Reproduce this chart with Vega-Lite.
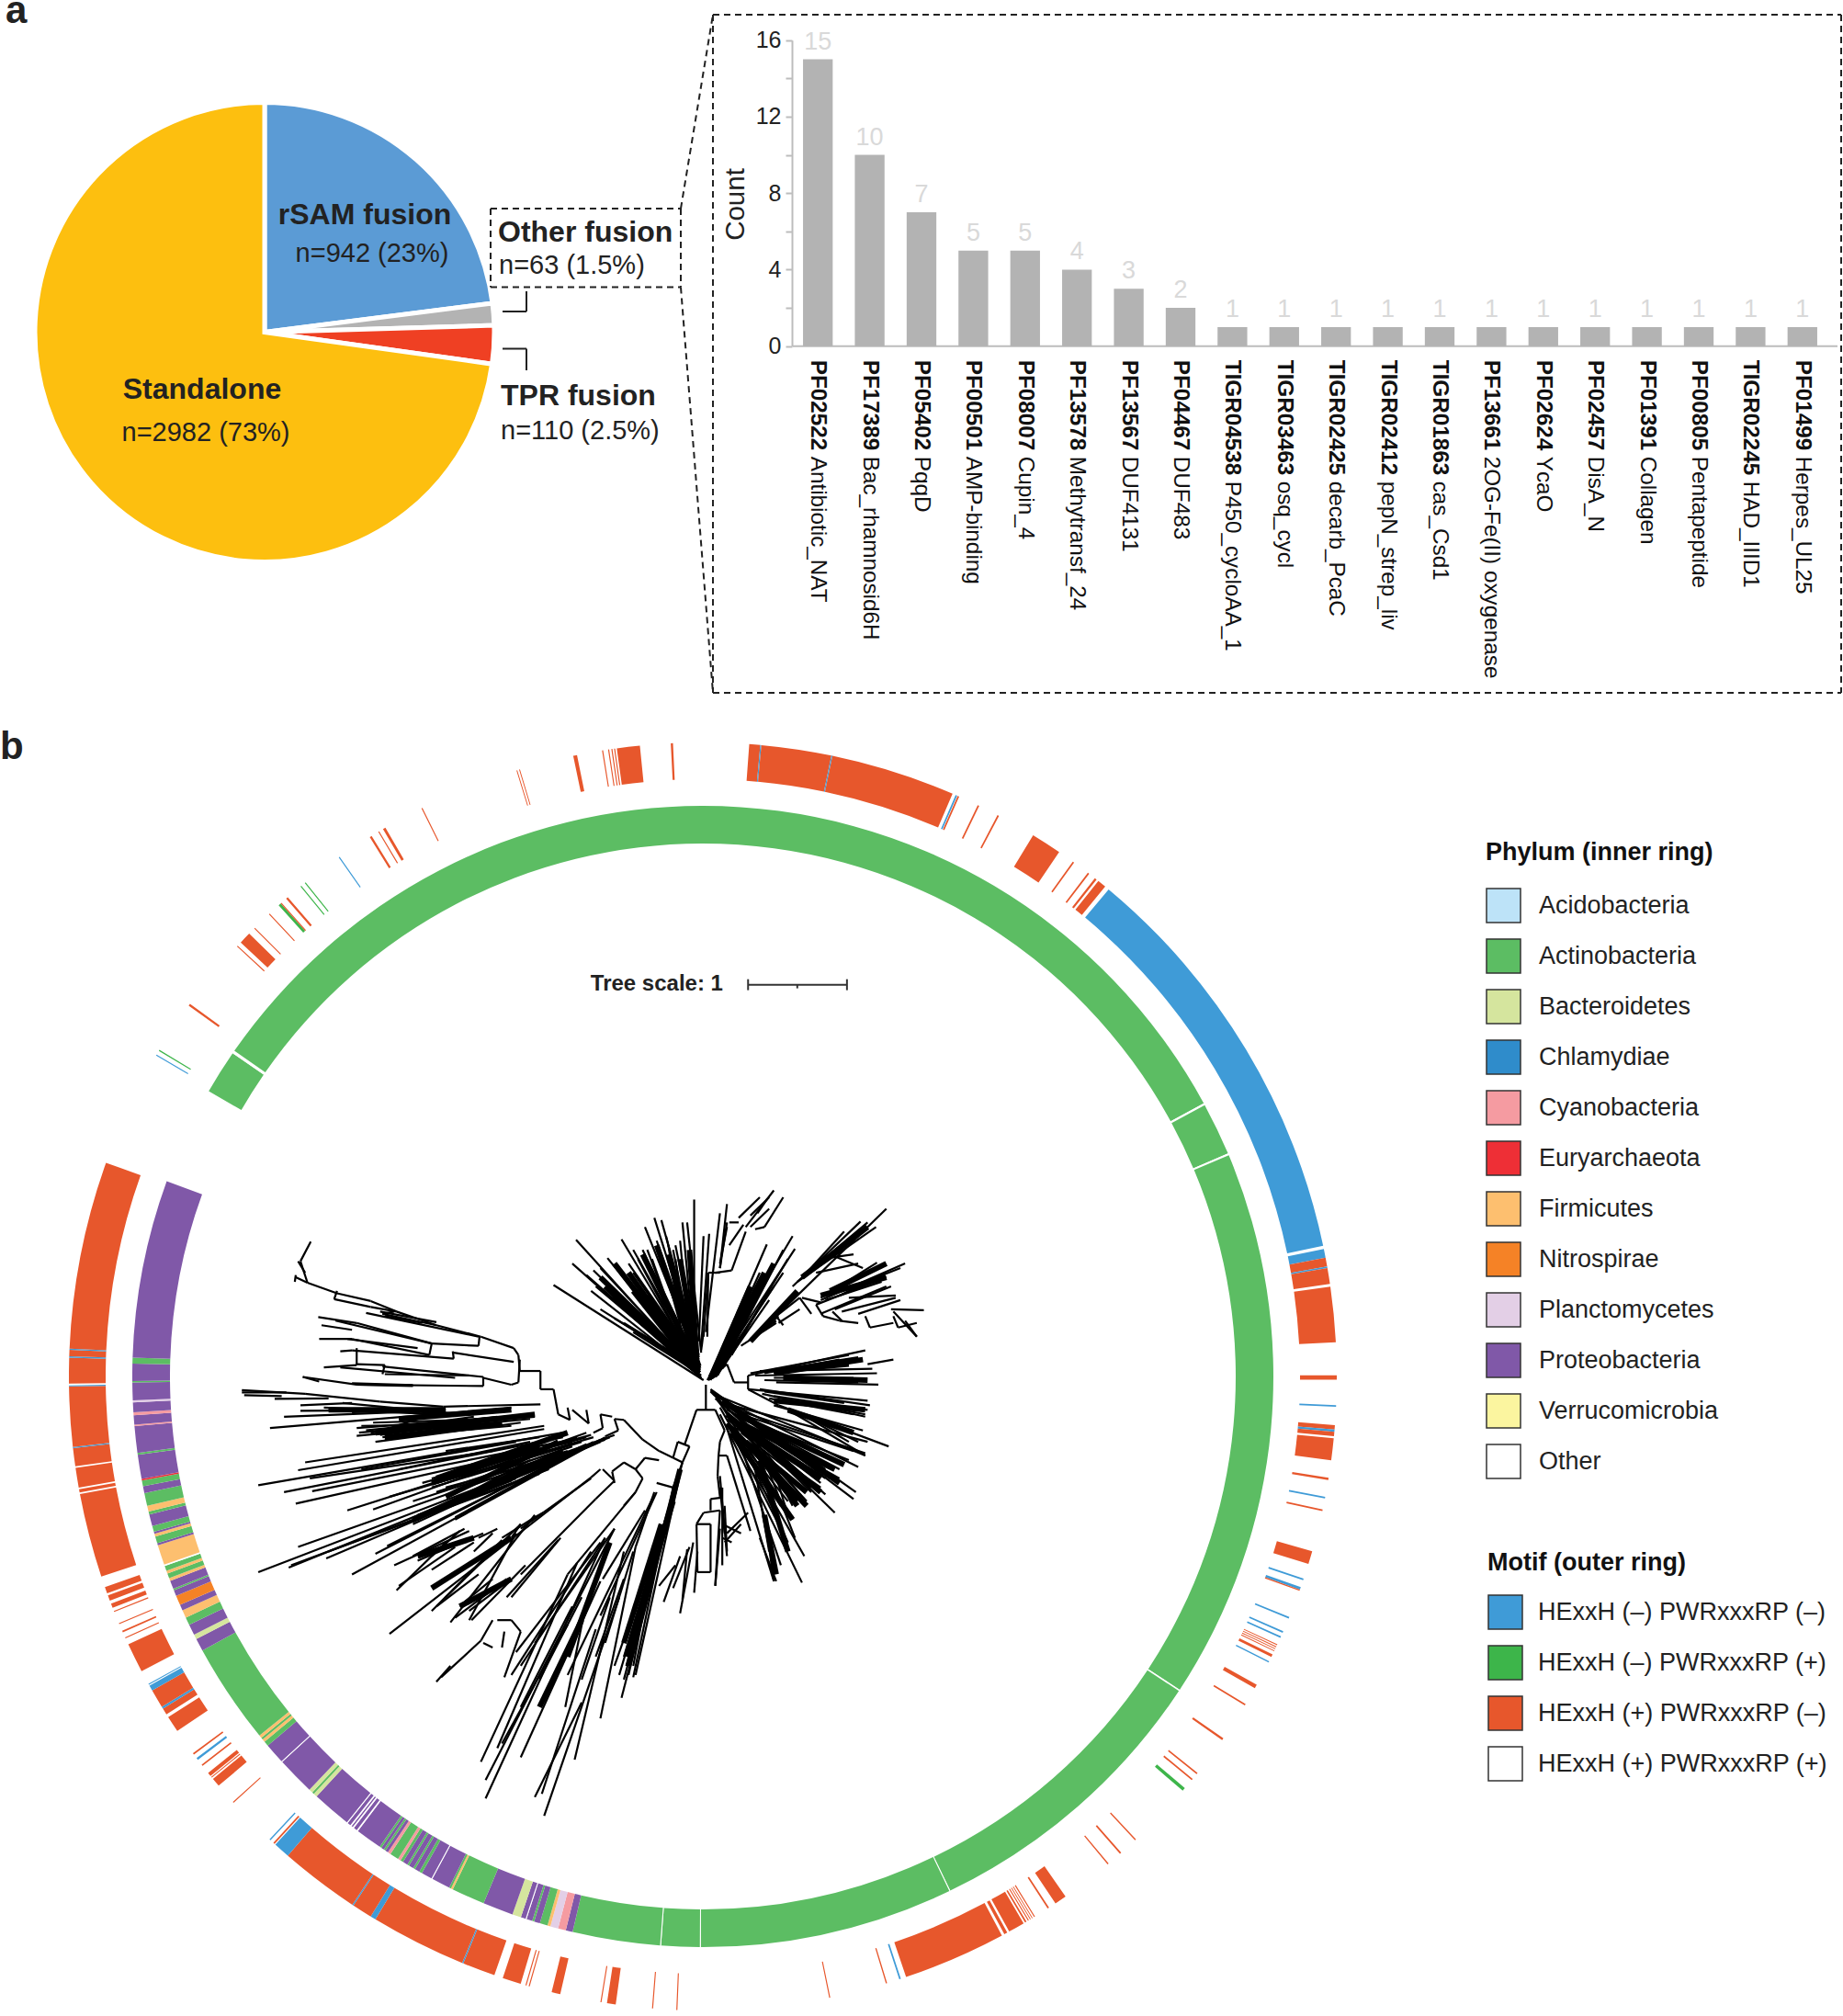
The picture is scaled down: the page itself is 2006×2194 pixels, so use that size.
{"$schema":"https://vega.github.io/schema/vega-lite/v6.json","padding":{"top":-9,"left":0,"right":0,"bottom":0},"background":"white","config":{"view":{"stroke":null},"font":"Liberation Sans","text":{"font":"Liberation Sans"},"concat":{"spacing":0}},
"datasets":{
"inner":[{"s":300,"e":304.5,"p":"Actinobacteria"},{"s":304.5,"e":304.8,"p":"Other"},{"s":304.8,"e":360,"p":"Actinobacteria"},{"s":0,"e":61.4,"p":"Actinobacteria"},{"s":61.4,"e":61.6,"p":"Other"},{"s":61.6,"e":67,"p":"Actinobacteria"},{"s":67,"e":67.2,"p":"Other"},{"s":67.2,"e":123.3,"p":"Actinobacteria"},{"s":123.3,"e":123.45,"p":"Other"},{"s":123.45,"e":154.3,"p":"Actinobacteria"},{"s":154.3,"e":154.4,"p":"Other"},{"s":154.4,"e":180.2,"p":"Actinobacteria"},{"s":180.2,"e":180.3,"p":"Other"},{"s":180.3,"e":184.2,"p":"Actinobacteria"},{"s":184.2,"e":184.3,"p":"Other"},{"s":184.3,"e":193.2,"p":"Actinobacteria"},
{"s":193.2,"e":193.9,"p":"Proteobacteria"},{"s":193.9,"e":194.7,"p":"Cyanobacteria"},{"s":194.7,"e":195.5,"p":"Planctomycetes"},{"s":195.5,"e":195.8,"p":"Firmicutes"},{"s":195.8,"e":196.6,"p":"Actinobacteria"},{"s":196.6,"e":197.2,"p":"Proteobacteria"},{"s":197.2,"e":197.4,"p":"Actinobacteria"},{"s":197.4,"e":198,"p":"Proteobacteria"},{"s":198,"e":198.1,"p":"Other"},{"s":198.1,"e":198.6,"p":"Proteobacteria"},{"s":198.6,"e":199.5,"p":"Bacteroidetes"},{"s":199.5,"e":202.6,"p":"Proteobacteria"},{"s":202.6,"e":206,"p":"Actinobacteria"},{"s":206,"e":206.2,"p":"Firmicutes"},{"s":206.2,"e":206.4,"p":"Actinobacteria"},{"s":206.4,"e":208.3,"p":"Proteobacteria"},{"s":208.3,"e":208.4,"p":"Other"},{"s":208.4,"e":209.5,"p":"Proteobacteria"},{"s":209.5,"e":209.8,"p":"Actinobacteria"},{"s":209.8,"e":210.3,"p":"Proteobacteria"},{"s":210.3,"e":210.5,"p":"Actinobacteria"},{"s":210.5,"e":211,"p":"Proteobacteria"},{"s":211,"e":211.2,"p":"Actinobacteria"},{"s":211.2,"e":211.7,"p":"Proteobacteria"},{"s":211.7,"e":212,"p":"Actinobacteria"},{"s":212,"e":212.3,"p":"Cyanobacteria"},{"s":212.3,"e":213.2,"p":"Actinobacteria"},{"s":213.2,"e":213.5,"p":"Cyanobacteria"},{"s":213.5,"e":213.8,"p":"Proteobacteria"},{"s":213.8,"e":214,"p":"Actinobacteria"},{"s":214,"e":214.3,"p":"Proteobacteria"},{"s":214.3,"e":214.5,"p":"Actinobacteria"},{"s":214.5,"e":217.2,"p":"Proteobacteria"},{"s":217.2,"e":217.35,"p":"Other"},{"s":217.35,"e":217.7,"p":"Proteobacteria"},{"s":217.7,"e":217.85,"p":"Other"},{"s":217.85,"e":218,"p":"Proteobacteria"},{"s":218,"e":218.15,"p":"Other"},{"s":218.15,"e":218.5,"p":"Proteobacteria"},{"s":218.5,"e":218.6,"p":"Other"},{"s":218.6,"e":222.6,"p":"Proteobacteria"},{"s":222.6,"e":223,"p":"Bacteroidetes"},{"s":223,"e":223.2,"p":"Actinobacteria"},{"s":223.2,"e":223.6,"p":"Bacteroidetes"},{"s":223.6,"e":227.5,"p":"Proteobacteria"},{"s":227.5,"e":227.6,"p":"Other"},{"s":227.6,"e":229.7,"p":"Proteobacteria"},{"s":229.7,"e":230.2,"p":"Actinobacteria"},{"s":230.2,"e":230.5,"p":"Firmicutes"},{"s":230.5,"e":230.7,"p":"Actinobacteria"},{"s":230.7,"e":231,"p":"Firmicutes"},{"s":231,"e":241.3,"p":"Actinobacteria"},{"s":241.3,"e":242.6,"p":"Proteobacteria"},{"s":242.6,"e":243.1,"p":"Bacteroidetes"},{"s":243.1,"e":244.2,"p":"Proteobacteria"},{"s":244.2,"e":245,"p":"Actinobacteria"},{"s":245,"e":245.8,"p":"Firmicutes"},{"s":245.8,"e":246.4,"p":"Proteobacteria"},{"s":246.4,"e":247.4,"p":"Nitrospirae"},{"s":247.4,"e":248,"p":"Proteobacteria"},{"s":248,"e":248.15,"p":"Actinobacteria"},{"s":248.15,"e":249,"p":"Proteobacteria"},{"s":249,"e":249.3,"p":"Firmicutes"},{"s":249.3,"e":249.8,"p":"Actinobacteria"},{"s":249.8,"e":250.1,"p":"Firmicutes"},{"s":250.1,"e":250.6,"p":"Actinobacteria"},{"s":250.6,"e":250.75,"p":"Other"},{"s":250.75,"e":252.8,"p":"Firmicutes"},{"s":252.8,"e":253,"p":"Proteobacteria"},{"s":253,"e":253.7,"p":"Actinobacteria"},{"s":253.7,"e":254,"p":"Firmicutes"},{"s":254,"e":254.2,"p":"Proteobacteria"},{"s":254.2,"e":254.8,"p":"Actinobacteria"},{"s":254.8,"e":256,"p":"Proteobacteria"},{"s":256,"e":256.3,"p":"Actinobacteria"},{"s":256.3,"e":256.9,"p":"Firmicutes"},{"s":256.9,"e":258.2,"p":"Actinobacteria"},{"s":258.2,"e":258.9,"p":"Proteobacteria"},{"s":258.9,"e":259.5,"p":"Actinobacteria"},{"s":259.5,"e":259.65,"p":"Euryarchaeota"},{"s":259.65,"e":262.1,"p":"Proteobacteria"},{"s":262.1,"e":262.3,"p":"Actinobacteria"},{"s":262.3,"e":265,"p":"Proteobacteria"},{"s":265,"e":265.15,"p":"Cyanobacteria"},{"s":265.15,"e":266.1,"p":"Proteobacteria"},{"s":266.1,"e":266.4,"p":"Cyanobacteria"},{"s":266.4,"e":267.4,"p":"Proteobacteria"},{"s":267.4,"e":267.6,"p":"Planctomycetes"},{"s":267.6,"e":269.4,"p":"Proteobacteria"},{"s":269.4,"e":269.55,"p":"Actinobacteria"},{"s":269.55,"e":271.3,"p":"Proteobacteria"},{"s":271.3,"e":271.9,"p":"Actinobacteria"},{"s":271.9,"e":290,"p":"Proteobacteria"}],
"outer":[{"s":4.2,"e":5.2,"m":"c"},{"s":5.2,"e":5.3,"m":"a"},{"s":5.3,"e":11.7,"m":"c"},{"s":11.7,"e":11.8,"m":"a"},{"s":11.8,"e":23.2,"m":"c"},{"s":23.5,"e":23.65,"m":"a"},{"s":23.7,"e":23.85,"m":"c"},{"s":25.7,"e":25.85,"m":"c"},{"s":27.7,"e":27.85,"m":"c"},{"s":31.4,"e":34.2,"m":"c"},{"s":35.7,"e":35.85,"m":"c"},{"s":37.4,"e":37.55,"m":"c"},{"s":38.2,"e":38.4,"m":"c"},{"s":38.6,"e":39.4,"m":"c"},{"s":39.8,"e":78.1,"m":"a"},{"s":78.4,"e":79.2,"m":"a"},{"s":79.2,"e":80,"m":"c"},{"s":80,"e":80.15,"m":"a"},{"s":80.15,"e":81.6,"m":"c"},{"s":81.85,"e":86.9,"m":"c"},{"s":89.9,"e":90.3,"m":"c"},{"s":92.6,"e":92.75,"m":"a"},{"s":94.4,"e":94.8,"m":"c"},{"s":94.8,"e":95,"m":"a"},{"s":95,"e":95.4,"m":"c"},{"s":95.6,"e":97.6,"m":"c"},{"s":99.2,"e":99.4,"m":"c"},{"s":100.95,"e":101.1,"m":"a"},{"s":102.1,"e":102.25,"m":"c"},{"s":106,"e":107.2,"m":"c"},{"s":108.6,"e":108.75,"m":"a"},{"s":109.4,"e":109.65,"m":"a"},{"s":109.65,"e":109.75,"m":"c"},{"s":112.3,"e":112.45,"m":"a"},{"s":113.7,"e":113.85,"m":"a"},{"s":114.2,"e":114.35,"m":"a"},{"s":115,"e":115.08,"m":"c"},{"s":115.2,"e":115.28,"m":"c"},{"s":115.4,"e":115.48,"m":"c"},{"s":115.6,"e":115.68,"m":"c"},{"s":116,"e":116.25,"m":"c"},{"s":116.7,"e":116.82,"m":"a"},{"s":119.1,"e":119.45,"m":"c"},{"s":121.1,"e":121.25,"m":"c"},{"s":124.8,"e":125,"m":"c"},{"s":128.7,"e":128.85,"m":"c"},{"s":129.4,"e":129.55,"m":"c"},{"s":130.5,"e":130.8,"m":"b"},{"s":136.9,"e":137.02,"m":"c"},{"s":138.7,"e":138.85,"m":"c"},{"s":140.2,"e":140.32,"m":"c"},{"s":145.1,"e":146.2,"m":"c"},{"s":146.9,"e":147.05,"m":"c"},{"s":148.4,"e":148.5,"m":"c"},{"s":148.65,"e":148.72,"m":"c"},{"s":148.85,"e":148.92,"m":"c"},{"s":149.05,"e":149.15,"m":"c"},{"s":149.3,"e":149.45,"m":"c"},{"s":149.6,"e":151.1,"m":"c"},{"s":151.3,"e":151.6,"m":"c"},{"s":151.85,"e":161.3,"m":"c"},{"s":161.8,"e":161.95,"m":"a"},{"s":163.1,"e":163.22,"m":"c"},{"s":168.4,"e":168.5,"m":"c"},{"s":182.3,"e":182.4,"m":"c"},{"s":184.5,"e":184.6,"m":"c"},{"s":187.9,"e":188.7,"m":"c"},{"s":189.2,"e":189.3,"m":"c"},{"s":193,"e":193.8,"m":"c"},{"s":195.85,"e":195.95,"m":"c"},{"s":196.15,"e":196.25,"m":"c"},{"s":196.7,"e":198.4,"m":"c"},{"s":199.2,"e":202.2,"m":"c"},{"s":202.2,"e":202.32,"m":"a"},{"s":202.32,"e":211.1,"m":"c"},{"s":211.1,"e":211.6,"m":"a"},{"s":211.6,"e":213.45,"m":"c"},{"s":213.45,"e":213.57,"m":"a"},{"s":213.57,"e":220.9,"m":"c"},{"s":220.9,"e":222.4,"m":"a"},{"s":222.5,"e":222.65,"m":"c"},{"s":223,"e":223.12,"m":"a"},{"s":227.75,"e":227.85,"m":"c"},{"s":229.8,"e":230.6,"m":"c"},{"s":230.75,"e":230.85,"m":"c"},{"s":230.95,"e":231.3,"m":"c"},{"s":232.1,"e":232.25,"m":"c"},{"s":232.8,"e":233,"m":"a"},{"s":233.4,"e":233.55,"m":"c"},{"s":236,"e":237.5,"m":"c"},{"s":237.8,"e":238.4,"m":"c"},{"s":238.4,"e":238.6,"m":"a"},{"s":238.6,"e":240.3,"m":"c"},{"s":240.3,"e":240.8,"m":"a"},{"s":240.9,"e":241,"m":"a"},{"s":242.3,"e":245,"m":"c"},{"s":245.6,"e":245.7,"m":"c"},{"s":246.2,"e":246.35,"m":"c"},{"s":247,"e":247.1,"m":"c"},{"s":248.2,"e":248.3,"m":"c"},{"s":248.6,"e":249,"m":"c"},{"s":249.3,"e":249.8,"m":"c"},{"s":250,"e":250.6,"m":"c"},{"s":251.6,"e":259.3,"m":"c"},{"s":259.45,"e":259.75,"m":"c"},{"s":259.9,"e":261.7,"m":"c"},{"s":261.85,"e":263.5,"m":"c"},{"s":263.5,"e":263.62,"m":"a"},{"s":263.62,"e":269.1,"m":"c"},{"s":269.1,"e":269.2,"m":"a"},{"s":269.35,"e":271.7,"m":"c"},{"s":271.7,"e":271.82,"m":"a"},{"s":271.82,"e":272.4,"m":"c"},{"s":272.4,"e":272.52,"m":"a"},{"s":272.52,"e":289.7,"m":"c"},{"s":300.4,"e":300.5,"m":"a"},{"s":300.9,"e":301,"m":"b"},{"s":305.8,"e":306,"m":"c"},{"s":312.7,"e":312.8,"m":"c"},{"s":313.2,"e":314.3,"m":"c"},{"s":314.95,"e":315.05,"m":"c"},{"s":316.8,"e":316.9,"m":"c"},{"s":318,"e":318.25,"m":"b"},{"s":318.25,"e":318.35,"m":"c"},{"s":318.9,"e":319.1,"m":"c"},{"s":320.6,"e":320.7,"m":"b"},{"s":321.1,"e":321.2,"m":"b"},{"s":324.95,"e":325.05,"m":"a"},{"s":328.3,"e":328.5,"m":"c"},{"s":329.2,"e":329.3,"m":"c"},{"s":329.7,"e":329.95,"m":"c"},{"s":333.65,"e":333.75,"m":"c"},{"s":342.9,"e":342.98,"m":"c"},{"s":343.15,"e":343.23,"m":"c"},{"s":348.2,"e":348.55,"m":"c"},{"s":350.85,"e":350.95,"m":"c"},{"s":351.4,"e":351.5,"m":"c"},{"s":351.7,"e":351.8,"m":"c"},{"s":351.95,"e":352.05,"m":"c"},{"s":352.2,"e":354.3,"m":"c"},{"s":357.1,"e":357.3,"m":"c"}],
"fusion":[{"c":"rSAM fusion","n":942,"o":1},{"c":"Other fusion","n":63,"o":2},{"c":"TPR fusion","n":110,"o":3},{"c":"Standalone","n":2982,"o":4}],
"bars":[{"id":"PF02522","d":"Antibiotic_NAT","k":15},{"id":"PF17389","d":"Bac_rhamnosid6H","k":10},{"id":"PF05402","d":"PqqD","k":7},{"id":"PF00501","d":"AMP-binding","k":5},{"id":"PF08007","d":"Cupin_4","k":5},{"id":"PF13578","d":"Methytransf_24","k":4},{"id":"PF13567","d":"DUF4131","k":3},{"id":"PF04467","d":"DUF483","k":2},{"id":"TIGR04538","d":"P450_cycloAA_1","k":1},{"id":"TIGR03463","d":"osq_cycl","k":1},{"id":"TIGR02425","d":"decarb_PcaC","k":1},{"id":"TIGR02412","d":"pepN_strep_liv","k":1},{"id":"TIGR01863","d":"cas_Csd1","k":1},{"id":"PF13661","d":"2OG-Fe(II) oxygenase","k":1},{"id":"PF02624","d":"YcaO","k":1},{"id":"PF02457","d":"DisA_N","k":1},{"id":"PF01391","d":"Collagen","k":1},{"id":"PF00805","d":"Pentapeptide","k":1},{"id":"TIGR02245","d":"HAD_IIID1","k":1},{"id":"PF01499","d":"Herpes_UL25","k":1}],
"dense":[[1040,510,830,300],[1040,510,860,270],[1040,505,890,290],[1040,500,920,250],[1040,495,950,230],[1035,490,975,250],[1035,470,1000,260],[1035,465,1020,240],[1035,505,900,330],[1040,510,860,340],[1040,510,840,320],[1040,505,900,380],[1040,500,930,340],[1035,490,960,330],[1035,480,990,330],[1065,520,1180,290],[1065,520,1150,320],[1075,510,1200,270],[1150,440,1250,330],[1260,300,1400,190],[1300,340,1440,300],[1320,330,1440,270],[1200,510,1390,480],[1220,520,1400,525],[1200,570,1395,590],[1230,590,1370,640],[1200,505,1360,490],[1090,570,1340,750],[1100,600,1300,770],[1100,620,1270,800],[1110,640,1240,830],[1130,620,1330,720],[1120,600,1350,710],[1180,820,1205,950],[1170,700,1230,900],[1150,640,1300,740],[1140,660,1270,770],[1160,680,1250,800],[350,640,690,600],[370,650,620,620],[400,610,640,590],[250,590,500,590],[480,740,760,640],[430,830,750,680],[480,810,720,700],[470,750,700,670],[500,780,740,660],[1000,720,890,1150],[985,790,885,1130],[960,840,880,1100],[470,980,640,870],[530,1020,640,960],[440,910,560,870],[760,1130,850,880],[700,1240,790,1050]],
"tree":[[1055,535,1055,590],[1035,590,1075,590],[1035,590,1010,665],[1075,590,1095,635],[1020,670,995,660],[995,660,985,695],[1020,670,1005,705],[985,695,1005,705],[985,695,955,680],[955,680,920,655],[920,655,880,612],[880,612,860,610],[860,610,868,635],[868,635,840,648],[855,605,830,600],[830,600,835,630],[835,630,815,640],[800,590,805,620],[805,620,770,590],[760,585,765,612],[765,612,740,600],[740,600,730,545],[730,545,702,545],[702,545,702,505],[1005,705,985,760],[985,760,950,750],[955,700,925,695],[925,695,905,720],[905,720,920,740],[880,705,855,725],[855,725,860,750],[830,720,810,738],[880,705,905,720],
[702,505,658,505],[658,505,655,470],[655,470,645,455],[645,455,575,430],[575,430,480,405],[480,405,395,375],[395,375,340,352],[340,352,268,335],[268,335,205,312],[205,312,180,300],[205,312,190,265],[190,265,212,222],[200,290,185,265],[180,295,178,310],[268,330,262,348],[262,348,340,365],[340,365,395,375],[572,430,570,450],[570,450,470,445],[470,445,310,400],[310,400,228,387],[470,445,465,470],[465,470,300,435],[300,435,230,435],[515,462,517,478],[517,478,300,460],[645,485,517,465],[300,460,275,462],[310,455,310,492],[310,492,240,497],[310,490,370,492],[370,492,365,512],[370,512,550,515],[365,495,580,518],[580,518,580,538],[580,538,310,535],[310,535,430,538],[310,535,195,518],[195,518,230,528],[640,535,580,520],[655,530,640,535],[658,480,655,530],[390,375,365,380],[365,380,480,405],[330,378,570,430],[265,395,470,445],[235,405,300,415],[290,435,440,455],[300,532,430,536],[275,497,520,520],[360,375,480,398],[370,385,450,400],
[702,578,495,583],[495,583,360,572],[360,572,200,555],[200,555,65,547],[65,552,160,552],[70,558,150,560],[250,565,135,566],[300,575,190,580],[500,590,190,592],[400,595,155,605],[640,585,125,630],[690,600,310,630],[690,605,315,640],[680,610,310,647],[660,618,350,660],[640,625,365,650],[620,620,320,625],[600,610,345,618],[560,600,240,585],[540,600,280,575],[610,605,330,635],[520,630,370,655],[500,615,380,630],[470,600,350,640],[600,595,400,610],[580,615,340,640],[560,605,420,625],[540,620,360,645],[500,600,250,590],[480,590,300,595],
[710,625,200,705],[710,632,185,722],[750,640,100,755],[750,650,155,770],[770,655,215,768],[770,660,180,795],[780,650,290,810],[800,640,345,808],[810,645,470,740],[815,650,380,780],[860,645,185,890],[850,650,100,945],[840,655,165,935],[830,660,245,915],[820,660,300,950],[800,665,430,840],[830,655,375,888],[815,660,350,905],[840,650,520,830],[770,680,440,830],[800,650,450,750],[790,660,470,760],[770,670,480,770],[760,680,430,790],[750,690,500,760],[740,700,420,835],[745,695,440,820],[735,705,520,825],[720,720,170,930],[700,730,250,900],[700,650,500,680],[680,660,400,720],[650,660,320,720],[600,680,210,740],[700,670,480,745],[690,690,480,750],[680,700,440,830],[660,720,430,835],[650,740,480,810],[640,745,500,800],
[810,738,380,1080],[708,815,660,850],[610,850,570,870],[540,850,430,910],[550,855,390,930],[530,855,470,910],[500,880,395,985],[520,890,400,975],[600,860,560,900],[620,875,470,1030],[660,840,500,1000],[690,820,510,1055],[650,860,550,1050],[630,960,520,1045],[570,950,480,1020],[640,960,550,1030],[670,930,555,1050],[745,870,640,1000],[600,1050,575,1095],[575,1095,490,1175],[510,1150,480,1185],[610,1050,640,1050],[640,1050,660,1075],[625,1075,620,1110],[660,1075,625,1175],[580,1100,600,1110],[810,740,708,815],[708,815,690,825],[690,825,620,870],[660,840,640,870],[835,720,860,745],[860,745,820,785],[820,785,660,950],[740,875,630,1000],[580,860,440,920],[560,880,470,940],[600,960,540,1010],[620,970,530,1020],
[905,770,760,950],[760,950,575,1360],[780,925,610,1330],[860,850,585,1400],[840,870,585,1440],[830,965,660,1350],[800,1010,755,1240],[905,890,830,1265],[880,900,775,1355],[870,1000,710,1478],[790,1230,690,1437],[820,1070,705,1430],[1005,705,875,1220],[985,760,900,1175],[945,775,760,1170],[950,770,830,1040],[925,810,835,960],[1000,720,880,1180],[995,740,870,1170],[990,760,885,1150],[980,790,880,1130],[970,830,860,1150],[960,850,890,1170],[950,880,900,1150],[1000,730,905,1170],[860,850,690,1100],[840,870,660,1150],[810,900,640,1170],[830,880,650,1120],[905,770,880,800],[920,740,905,770],[945,770,905,890],[790,1000,700,1180],[770,1020,660,1240],[760,1060,620,1320],[850,1000,790,1180],[900,900,840,1100],[880,960,820,1130],
[1095,635,1085,660],[1085,660,1082,690],[1082,690,1100,690],[1100,690,1150,855],[1082,690,1080,735],[1080,735,1085,780],[1065,785,1088,782],[1065,785,1065,810],[1050,815,1085,810],[1085,810,1075,975],[1050,815,1035,840],[1035,840,1065,840],[1035,840,1037,945],[1037,945,1065,945],[1065,840,1065,945],[1037,900,1030,990],[1028,880,1000,1035],[1015,895,1005,1005],[1000,910,965,1010],[990,930,955,975],[1020,890,985,980],[1085,735,1100,910],[1095,800,1100,900],[1090,760,1090,930],[1085,850,1075,975],[1090,840,1130,860],[1100,860,1145,815],[1090,870,1110,880],[1095,880,1130,840],[1085,760,1095,860],
[1065,545,1375,770],[1065,548,1370,785],[1065,550,1330,815],[1070,555,1395,690],[1075,560,1380,715],[1075,565,1310,775],[1080,570,1250,780],[1085,575,1240,830],[1085,585,1265,910],[1085,600,1260,968],[1100,620,1220,860],[1100,630,1200,965],[1120,640,1215,930],[1120,630,1300,760],[1130,620,1340,740],[1140,610,1360,700],[1150,610,1310,720],[1130,640,1280,760],[1150,640,1250,790],[1130,600,1370,680],[1180,700,1245,870],[1150,700,1230,880],[1180,820,1200,965],[1170,870,1205,965],[1160,720,1190,900],[1120,590,1395,685],[1110,580,1400,660],[1120,600,1300,770],[1110,610,1270,790],[1140,620,1320,740],[1160,640,1300,750],[1170,660,1280,770],[1180,680,1260,780],[1190,700,1240,800],[1200,720,1230,820],[1100,590,1340,720],[1100,600,1310,740],[1100,610,1290,760],[1110,630,1240,780],[1130,660,1230,790],[1140,680,1215,800],[1150,720,1200,800],
[1060,525,1100,490],[1100,490,1115,530],[1115,530,1145,530],[1145,515,1145,545],[1145,515,1395,460],[1150,510,1360,470],[1170,505,1410,500],[1400,490,1455,480],[1160,515,1420,510],[1200,520,1370,520],[1205,530,1423,535],[1180,525,1380,530],[1145,545,1400,570],[1170,545,1405,580],[1175,555,1395,605],[1200,580,1390,635],[1200,560,1400,590],[1210,580,1445,670],[1230,590,1395,690],[1145,545,1210,580],[1180,510,1340,480],[1190,505,1380,475],[1180,550,1350,575],[1190,565,1370,600],[1240,570,1395,600],[1250,595,1380,660],[1260,600,1360,660],
[1058,525,1240,210],[1060,525,1185,228],[1062,525,1245,238],[1065,525,1170,290],[1068,522,1220,290],[1072,520,1200,320],[1076,518,1190,350],[1080,515,1220,240],[1090,500,1230,260],[1110,470,1190,330],[1130,450,1205,400],[1150,435,1205,395],[1165,420,1210,380],[1160,430,1210,385],[1205,385,1255,345],[1210,400,1255,370],[1205,385,1220,405],[1220,370,1440,150],[1240,320,1385,178],[1250,310,1418,190],[1270,290,1350,200],[1260,300,1400,180],[1300,260,1370,250],[1320,250,1390,280],[1290,290,1380,270],
[1255,345,1280,380],[1260,345,1300,355],[1300,350,1480,270],[1300,345,1420,268],[1290,360,1440,300],[1300,380,1440,320],[1330,370,1450,320],[1290,360,1305,385],[1305,385,1340,395],[1325,375,1345,395],[1345,375,1460,345],[1340,395,1380,400],[1380,380,1470,350],[1395,385,1405,410],[1405,410,1455,400],[1455,385,1465,410],[1450,370,1520,372],[1480,395,1505,430],[1465,410,1505,400],[1455,375,1505,430],[1310,350,1430,310],[1320,340,1470,280],[1340,340,1440,290],[1360,345,1460,340],
[1058,430,1060,290],[1060,290,1085,290],[1045,460,1050,420],[1050,430,1060,290],[1055,420,1085,160],[1075,290,1110,285],[1110,285,1140,200],[1085,280,1100,180],[1100,140,1085,280],[1105,180,1125,180],[1125,170,1170,125],[1140,190,1200,110],[1160,195,1180,190],[1180,190,1220,125],[1165,160,1185,130],[1150,165,1190,125],[1150,190,1190,150],[1105,230,1135,185],[1100,190,1085,270],
[1050,525,730,317],[1045,520,778,218],[1045,520,770,270],[1045,515,800,295],[1040,510,815,285],[1040,510,830,280],[1040,505,845,258],[1040,500,875,217],[1040,500,860,275],[1040,495,900,240],[1040,490,890,270],[1040,485,925,190],[1040,480,945,170],[1040,470,960,175],[1030,470,985,240],[1030,450,1005,180],[1030,440,1030,130],[1040,440,1050,210],[1045,450,1062,205],[1045,465,1015,180],[1040,475,990,230],[1035,480,970,210],[1040,490,950,220],[1040,495,920,240],[1040,505,840,310],[1040,510,820,320],[1040,515,810,330],[1035,500,850,320],[1030,490,880,300],[1030,480,900,290],[1020,470,910,260],[1040,500,870,340],[1030,500,830,370],[1025,490,860,390],[1040,510,900,420],[1030,495,880,400],[1010,440,960,250],[1000,430,930,240],[1010,460,940,260],[1020,460,990,260],[1020,440,1000,220],[1000,400,975,230]]
},
"vconcat":[
{"hconcat":[
{"width":576,"height":721,"layer":[
{"data":{"name":"fusion"},"mark":{"type":"arc","stroke":"white","strokeWidth":5,"outerRadius":250},"encoding":{"theta":{"field":"n","type":"quantitative","stack":true},"order":{"field":"o","type":"ordinal"},"color":{"field":"c","type":"nominal","legend":null,"scale":{"domain":["rSAM fusion","Other fusion","TPR fusion","Standalone"],"range":["#5b9bd5","#b3b3b3","#ef4023","#fdbf0f"]}}}},
{"data":{"values":[{"x":397,"y":233,"t":"rSAM fusion"},{"x":220,"y":423,"t":"Standalone"}]},"mark":{"type":"text","fontWeight":"bold","fontSize":32,"align":"center","baseline":"middle","color":"#222"},"encoding":{"x":{"field":"x","type":"quantitative","scale":{"domain":[0,576],"zero":false,"nice":false},"axis":null},"y":{"field":"y","type":"quantitative","scale":{"domain":[721,0],"zero":false,"nice":false},"axis":null},"text":{"field":"t"}}},
{"data":{"values":[{"x":542,"y":252,"t":"Other fusion"},{"x":545,"y":430,"t":"TPR fusion"}]},"mark":{"type":"text","fontWeight":"bold","fontSize":32,"align":"left","baseline":"middle","color":"#222"},"encoding":{"x":{"field":"x","type":"quantitative","scale":{"domain":[0,576],"zero":false,"nice":false},"axis":null},"y":{"field":"y","type":"quantitative","scale":{"domain":[721,0],"zero":false,"nice":false},"axis":null},"text":{"field":"t"}}},
{"data":{"values":[{"x":405,"y":275,"t":"n=942 (23%)"},{"x":224,"y":470,"t":"n=2982 (73%)"}]},"mark":{"type":"text","fontSize":29,"align":"center","baseline":"middle","color":"#222"},"encoding":{"x":{"field":"x","type":"quantitative","scale":{"domain":[0,576],"zero":false,"nice":false},"axis":null},"y":{"field":"y","type":"quantitative","scale":{"domain":[721,0],"zero":false,"nice":false},"axis":null},"text":{"field":"t"}}},
{"data":{"values":[{"x":543,"y":288,"t":"n=63 (1.5%)"},{"x":545,"y":468,"t":"n=110 (2.5%)"}]},"mark":{"type":"text","fontSize":29,"align":"left","baseline":"middle","color":"#222"},"encoding":{"x":{"field":"x","type":"quantitative","scale":{"domain":[0,576],"zero":false,"nice":false},"axis":null},"y":{"field":"y","type":"quantitative","scale":{"domain":[721,0],"zero":false,"nice":false},"axis":null},"text":{"field":"t"}}},
{"data":{"values":[{"x":6,"y":24,"t":"a"}]},"mark":{"type":"text","fontWeight":"bold","fontSize":42,"align":"left","baseline":"alphabetic","color":"#222"},"encoding":{"x":{"field":"x","type":"quantitative","scale":{"domain":[0,576],"zero":false,"nice":false},"axis":null},"y":{"field":"y","type":"quantitative","scale":{"domain":[721,0],"zero":false,"nice":false},"axis":null},"text":{"field":"t"}}},
{"data":{"values":[{"x":534,"y":226,"u":741,"v":226},{"x":534,"y":311.5,"u":741,"v":311.5},{"x":534,"y":226,"u":534,"v":311.5},{"x":741,"y":226,"u":741,"v":311.5},{"x":741,"y":226,"u":776,"v":15},{"x":741,"y":311.5,"u":776,"v":753},{"x":776,"y":15,"u":2004,"v":15},{"x":776,"y":753,"u":2004,"v":753},{"x":776,"y":15,"u":776,"v":753},{"x":2004,"y":15,"u":2004,"v":753}]},"mark":{"type":"rule","color":"#222","strokeWidth":2,"strokeDash":[7,5]},"encoding":{"x":{"field":"x","type":"quantitative","scale":{"domain":[0,576],"zero":false,"nice":false},"axis":null},"y":{"field":"y","type":"quantitative","scale":{"domain":[721,0],"zero":false,"nice":false},"axis":null},"x2":{"field":"u"},"y2":{"field":"v"}}},
{"data":{"values":[{"x":547,"y":338,"u":573,"v":338},{"x":573,"y":338,"u":573,"v":316},{"x":547,"y":378.5,"u":573,"v":378.5},{"x":573,"y":378.5,"u":573,"v":402}]},"mark":{"type":"rule","color":"#222","strokeWidth":2},"encoding":{"x":{"field":"x","type":"quantitative","scale":{"domain":[0,576],"zero":false,"nice":false},"axis":null},"y":{"field":"y","type":"quantitative","scale":{"domain":[721,0],"zero":false,"nice":false},"axis":null},"x2":{"field":"u"},"y2":{"field":"v"}}},
{"data":{"values":[{"x":863,"y":375.7,"u":2000,"v":375.7}]},"mark":{"type":"rule","color":"#bdbdbd","strokeWidth":2},"encoding":{"x":{"field":"x","type":"quantitative","scale":{"domain":[0,576],"zero":false,"nice":false},"axis":null},"y":{"field":"y","type":"quantitative","scale":{"domain":[721,0],"zero":false,"nice":false},"axis":null},"x2":{"field":"u"},"y2":{"field":"v"}}}
]},
{"width":1128,"height":721,"data":{"name":"bars"},"encoding":{"x":{"field":"id","type":"nominal","sort":null,"axis":null,"scale":{"domain":["PF02522","PF17389","PF05402","PF00501","PF08007","PF13578","PF13567","PF04467","TIGR04538","TIGR03463","TIGR02425","TIGR02412","TIGR01863","PF13661","PF02624","PF02457","PF01391","PF00805","TIGR02245","PF01499"],"paddingInner":0.427,"paddingOuter":0.2135}}},"layer":[
{"mark":{"type":"bar","color":"#b3b3b3"},"encoding":{"y":{"field":"k","type":"quantitative","scale":{"domain":[0,16],"range":[375.7,42.7],"nice":false},"axis":{"title":"Count","values":[0,2,4,6,8,10,12,14,16],"labelExpr":"datum.value % 4 === 0 ? datum.label : ''","grid":false,"domainColor":"#bdbdbd","domainWidth":2,"tickColor":"#bdbdbd","tickWidth":2,"tickSize":7,"labelFontSize":25,"labelColor":"#222","labelPadding":5,"titleFontSize":29.5,"titleFontWeight":"normal","titleColor":"#222","titlePadding":7,"titleY":221}}}},
{"mark":{"type":"text","fontSize":27,"color":"#d9d9d9","baseline":"alphabetic","dy":-11},"encoding":{"y":{"field":"k","type":"quantitative"},"text":{"field":"k"}}},
{"mark":{"type":"text","fontSize":24.3,"fontWeight":"bold","color":"#111","angle":90,"align":"left","baseline":"middle","dx":15},"encoding":{"y":{"datum":0,"type":"quantitative"},"text":{"field":"id"}}},
{"transform":[{"filter":"indexof(datum.id,'PF')===0"}],"mark":{"type":"text","fontSize":24.3,"color":"#111","angle":90,"align":"left","baseline":"middle","dx":120},"encoding":{"y":{"datum":0,"type":"quantitative"},"text":{"field":"d"}}},
{"transform":[{"filter":"indexof(datum.id,'TIGR')===0"}],"mark":{"type":"text","fontSize":24.3,"color":"#111","angle":90,"align":"left","baseline":"middle","dx":147},"encoding":{"y":{"datum":0,"type":"quantitative"},"text":{"field":"d"}}}
]}
],"spacing":286,"bounds":"flush"},
{"width":1530,"height":1400,"layer":[
{"data":{"name":"inner"},"mark":{"type":"arc","innerRadius":580,"outerRadius":621},"encoding":{"theta":{"field":"s","type":"quantitative","scale":{"domain":[0,360],"range":[0,6.283185]}},"theta2":{"field":"e"},"color":{"field":"p","type":"nominal","scale":{"domain":["Acidobacteria","Actinobacteria","Bacteroidetes","Chlamydiae","Cyanobacteria","Euryarchaeota","Firmicutes","Nitrospirae","Planctomycetes","Proteobacteria","Verrucomicrobia","Other"],"range":["#bde3f8","#5cbd63","#d5e59e","#2f8ccb","#f59ba1","#ee2f36","#fdbf6f","#f58226","#e3cfe6","#8058a8","#fbf59f","#ffffff"]},"legend":{"title":"Phylum (inner ring)","orient":"none","legendX":1617,"legendY":117,"symbolType":"square","symbolSize":1369,"symbolStrokeWidth":1.5,"symbolStrokeColor":"#333","labelFontSize":27,"labelColor":"#222","titleFontSize":27,"titleColor":"#111","titleFontWeight":"bold","titleLimit":500,"labelLimit":500,"rowPadding":12,"labelOffset":19,"titlePadding":24,"symbolOpacity":1,"encode":{"symbols":{"update":{"stroke":{"value":"#333"},"strokeWidth":{"value":1.5}}}}}}}},
{"data":{"name":"outer"},"transform":[{"lookup":"m","from":{"data":{"values":[{"m":"a","q":"HExxH (–) PWRxxxRP (–)"},{"m":"b","q":"HExxH (–) PWRxxxRP (+)"},{"m":"c","q":"HExxH (+) PWRxxxRP (–)"},{"m":"d","q":"HExxH (+) PWRxxxRP (+)"}]},"key":"m","fields":["q"]}}],"mark":{"type":"arc","innerRadius":650,"outerRadius":690},"encoding":{"theta":{"field":"s","type":"quantitative"},"theta2":{"field":"e"},"color":{"field":"q","type":"nominal","scale":{"domain":["HExxH (–) PWRxxxRP (–)","HExxH (–) PWRxxxRP (+)","HExxH (+) PWRxxxRP (–)","HExxH (+) PWRxxxRP (+)"],"range":["#3f9bd7","#3db54a","#e7572c","#ffffff"]},"legend":{"title":"Motif (outer ring)","orient":"none","legendX":1619,"legendY":890,"symbolType":"square","symbolSize":1369,"symbolStrokeWidth":1.5,"symbolStrokeColor":"#333","labelFontSize":27,"labelColor":"#222","titleFontSize":27,"titleColor":"#111","titleFontWeight":"bold","titleLimit":500,"labelLimit":500,"rowPadding":12,"labelOffset":16,"titlePadding":20,"encode":{"symbols":{"update":{"stroke":{"value":"#333"},"strokeWidth":{"value":1.5}}}}}}}},
{"data":{"name":"tree"},"transform":[{"calculate":"datum[0]","as":"x"},{"calculate":"datum[1]","as":"y"},{"calculate":"datum[2]","as":"u"},{"calculate":"datum[3]","as":"v"}],"mark":{"type":"rule","color":"#000","strokeWidth":2.2},"encoding":{"x":{"field":"x","type":"quantitative","scale":{"domain":[-451,2548],"zero":false,"nice":false},"axis":null},"y":{"field":"y","type":"quantitative","scale":{"domain":[1924,-890],"zero":false,"nice":false},"axis":null},"x2":{"field":"u"},"y2":{"field":"v"}}},
{"data":{"name":"dense"},"transform":[{"calculate":"datum[0]","as":"x"},{"calculate":"datum[1]","as":"y"},{"calculate":"datum[2]","as":"u"},{"calculate":"datum[3]","as":"v"}],"mark":{"type":"rule","color":"#000","strokeWidth":6},"encoding":{"x":{"field":"x","type":"quantitative","axis":null},"y":{"field":"y","type":"quantitative","axis":null},"x2":{"field":"u"},"y2":{"field":"v"}}},
{"data":{"values":[{"x":1145,"y":-340,"u":1356,"v":-340},{"x":1145,"y":-352,"u":1145,"v":-328},{"x":1356,"y":-352,"u":1356,"v":-328},{"x":1250,"y":-340,"u":1250,"v":-332}]},"mark":{"type":"rule","color":"#333","strokeWidth":2},"encoding":{"x":{"field":"x","type":"quantitative","axis":null},"y":{"field":"y","type":"quantitative","axis":null},"x2":{"field":"u"},"y2":{"field":"v"}}},
{"data":{"values":[{"x":809,"y":-342,"t":"Tree scale: 1"}]},"mark":{"type":"text","fontWeight":"bold","fontSize":24,"align":"left","baseline":"middle","color":"#222"},"encoding":{"x":{"field":"x","type":"quantitative","axis":null},"y":{"field":"y","type":"quantitative","axis":null},"text":{"field":"t"}}},
{"data":{"values":[{"x":-451,"y":-834,"t":"b"}]},"mark":{"type":"text","fontWeight":"bold","fontSize":42,"align":"left","baseline":"alphabetic","color":"#222"},"encoding":{"x":{"field":"x","type":"quantitative","axis":null},"y":{"field":"y","type":"quantitative","axis":null},"text":{"field":"t"}}}
],"resolve":{"scale":{"color":"independent"}}}
],"spacing":36}
